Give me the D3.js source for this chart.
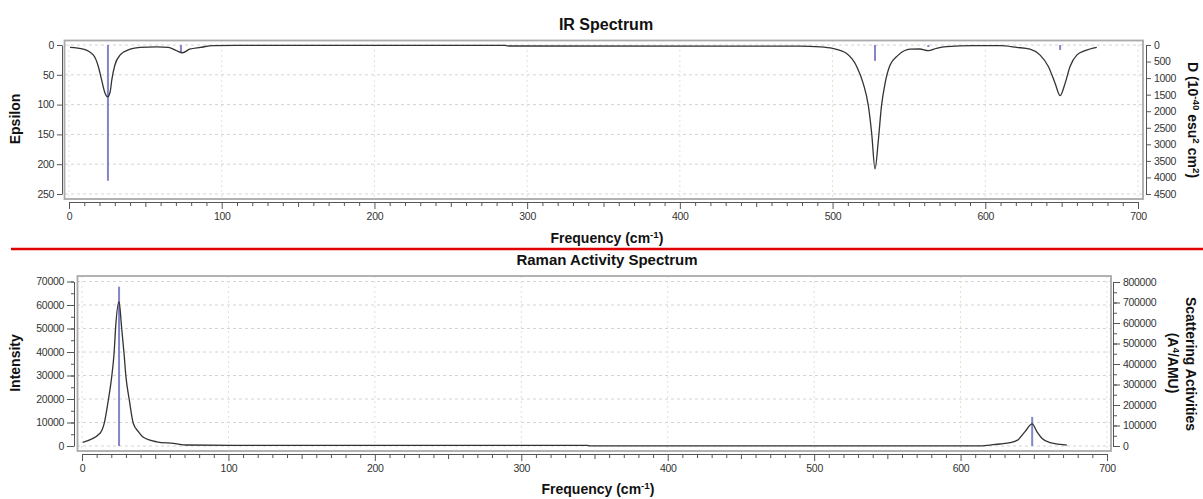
<!DOCTYPE html>
<html>
<head>
<meta charset="utf-8">
<script src="https://cdn.jsdelivr.net/npm/d3@7"></script>
<style>
  body { margin: 0; background: #fff; }
  svg { display: block; font-family: "Liberation Sans", Arial, sans-serif; }
  .tick text { font-size: 10.5px; fill: #333; letter-spacing: -0.3px; }
  .tick line, .domain { stroke: #555; }
</style>
</head>
<body>
<div id="chart"></div>
<script>
// IR spectrum curve (frequency cm-1, epsilon)
const irCurveFreq = [0.7, 9.4, 16, 19.2, 21.4, 23.5, 25.3, 27, 28, 30, 33.4, 40, 46.5, 57.4, 65, 70, 74.4, 79, 86, 94.5, 120, 285, 288, 478, 492, 500, 509, 515.8, 520, 523.5, 525.6, 527.8, 530, 532, 534.4, 537.6, 543, 550.7, 557, 562.7, 568, 574.8, 592, 609.7, 620.6, 629.3, 635.9, 641.3, 645.7, 649, 652.3, 655.5, 659.9, 665.4, 673];
const irCurveEps = [4, 7, 17, 36, 59, 80, 87, 78, 59, 34, 17, 7, 4, 3, 4, 9, 13, 7, 4, 1, 0.7, 0.7, 1.7, 1.8, 3, 5.6, 14, 36, 64, 103, 148, 208, 159, 103, 64, 34, 17, 7, 6.7, 9.5, 5.6, 2.8, 1.2, 1.2, 4, 7, 17, 36, 64, 85, 64, 36, 17, 9.5, 4];

// IR sticks (frequency, dipole strength D)
const irStickFreq = [25.5, 73.3, 527.8, 562.7, 649];
const irStickD = [4100, 210, 480, 60, 150];

// Raman curve (frequency, intensity)
const ramanCurveFreq = [0.5, 12.3, 15.2, 18, 20.3, 21.9, 23, 25.3, 27, 28.7, 30, 32.3, 35, 38.5, 41.9, 51, 62.4, 71.5, 103, 345, 347, 615, 620, 627, 633.9, 639.5, 644, 648.9, 652.1, 655.5, 661.2, 668, 672.6];
const ramanCurveInt = [1570, 5400, 9700, 19600, 29500, 39400, 50800, 61400, 50800, 39400, 29500, 19600, 9700, 6100, 3700, 1800, 1100, 430, 300, 300, 60, 80, 400, 850, 1400, 2800, 6100, 9400, 6100, 3300, 1400, 700, 400];

// Raman sticks (frequency, scattering activity)
const ramanStickFreq = [25.3, 648.9];
const ramanStickAct = [777000, 142000];

// tick values
const freqTicks = [0, 100, 200, 300, 400, 500, 600, 700];
const freqMinor = d3.range(0, 701, 10);
const epsTicks = [0, 50, 100, 150, 200, 250];
const dTicks = [0, 500, 1000, 1500, 2000, 2500, 3000, 3500, 4000, 4500];
const intTicks = [0, 10000, 20000, 30000, 40000, 50000, 60000, 70000];
const intMinor = d3.range(0, 70001, 5000);
const actTicks = [0, 100000, 200000, 300000, 400000, 500000, 600000, 700000, 800000];
const actMinor = d3.range(0, 800001, 50000);

const fmt = d3.format("d");

const svg = d3.select("#chart").append("svg")
  .attr("width", 1203)
  .attr("height", 499);

const line = (x, y) => d3.line().x(d => x(d[0])).y(d => y(d[1])).curve(d3.curveMonotoneX);

function frame(x0, y0, x1, y1) {
  svg.append("rect")
    .attr("x", x0).attr("y", y0)
    .attr("width", x1 - x0).attr("height", y1 - y0)
    .attr("fill", "none")
    .attr("stroke", "#aaa")
    .attr("stroke-width", 1.8);
}

function grid(x, y, yTicks, x0, x1, y0, y1) {
  const g = svg.append("g");
  g.selectAll("line.h").data(yTicks).enter().append("line")
    .attr("x1", x0).attr("x2", x1)
    .attr("y1", d => y(d)).attr("y2", d => y(d))
    .attr("stroke", "#d4d4d4").attr("stroke-dasharray", "3,3");
  g.selectAll("line.v").data(freqTicks).enter().append("line")
    .attr("x1", d => x(d)).attr("x2", d => x(d))
    .attr("y1", y0).attr("y2", y1)
    .attr("stroke", "#e2e2cc").attr("stroke-dasharray", "2,3");
}

function freqAxis(x, yPos) {
  svg.append("g").attr("transform", `translate(0,${yPos})`)
    .call(d3.axisBottom(x).tickValues(freqMinor.filter(d => d % 50 !== 0)).tickSize(4).tickFormat(""))
    .call(g => g.select(".domain").remove());
  svg.append("g").attr("transform", `translate(0,${yPos})`)
    .call(d3.axisBottom(x).tickValues([50, 150, 250, 350, 450, 550, 650]).tickSize(5).tickFormat(""))
    .call(g => g.select(".domain").remove());
  svg.append("g").attr("transform", `translate(0,${yPos})`)
    .call(d3.axisBottom(x).tickValues(freqTicks).tickSize(7).tickSizeOuter(0).tickPadding(4).tickFormat(fmt));
}

function sup(text, parts) {
  parts.forEach(p => {
    const t = text.append("tspan").text(p[0]);
    if (p[1]) t.attr("baseline-shift", "super").attr("font-size", "70%");
  });
}

function boldText(x, y, rot) {
  return svg.append("text")
    .attr("transform", `translate(${x},${y}) rotate(${rot || 0})`)
    .attr("text-anchor", "middle")
    .attr("font-weight", "bold")
    .attr("font-size", 14)
    .attr("fill", "#111");
}

// ---------- IR panel ----------
const xIR = d3.scaleLinear().domain([0, 700]).range([69, 1138]);
const yEps = d3.scaleLinear().domain([0, 250]).range([45, 194]);
const yD = d3.scaleLinear().domain([0, 4500]).range([45, 194]);

grid(xIR, yEps, epsTicks, 65, 1143, 40, 199);
frame(64.5, 40.5, 1143, 199);

svg.append("g").attr("transform", "translate(62,0)")
  .call(d3.axisLeft(yEps).tickValues(epsTicks).tickSize(5).tickSizeOuter(0).tickPadding(3).tickFormat(fmt));
svg.append("g").attr("transform", "translate(1146,0)")
  .call(d3.axisRight(yD).tickValues(dTicks).tickSize(5).tickSizeOuter(0).tickPadding(3).tickFormat(fmt));
freqAxis(xIR, 202);

svg.append("g").selectAll("line").data(irStickFreq).enter().append("line")
  .attr("x1", d => xIR(d)).attr("x2", d => xIR(d))
  .attr("y1", yD(0))
  .attr("y2", (d, i) => yD(irStickD[i]))
  .attr("stroke", "#7070c0").attr("stroke-opacity", 0.85).attr("stroke-width", 2);

svg.append("path")
  .datum(irCurveFreq.map((f, i) => [f, irCurveEps[i]]))
  .attr("d", line(xIR, yEps))
  .attr("fill", "none").attr("stroke", "#333").attr("stroke-width", 1.3);

boldText(606, 30).attr("font-size", 16).text("IR Spectrum");
sup(boldText(607, 243), [["Frequency (cm"], ["-1", true], [")"]]);
boldText(20, 119, -90).text("Epsilon");
sup(boldText(1188, 120, 90), [["D (10"], ["-40", true], [" esu"], ["2", true], [" cm"], ["2", true], [")"]]);

// separator
svg.append("line")
  .attr("x1", 11).attr("x2", 1203).attr("y1", 249).attr("y2", 249)
  .attr("stroke", "#e00000").attr("stroke-width", 2.5);

// ---------- Raman panel ----------
const xR = d3.scaleLinear().domain([0, 700]).range([82, 1107]);
const yInt = d3.scaleLinear().domain([0, 70000]).range([446, 281.5]);
const yAct = d3.scaleLinear().domain([0, 800000]).range([446, 282]);

grid(xR, yInt, intTicks, 77, 1111, 276, 451);
frame(77.5, 276, 1111, 451);

svg.append("g").attr("transform", "translate(74,0)")
  .call(d3.axisLeft(yInt).tickValues(intMinor).tickSize(3).tickFormat(""))
  .call(g => g.select(".domain").remove());
svg.append("g").attr("transform", "translate(74,0)")
  .call(d3.axisLeft(yInt).tickValues(intTicks).tickSize(7).tickSizeOuter(0).tickPadding(3).tickFormat(fmt));
svg.append("g").attr("transform", "translate(1113,0)")
  .call(d3.axisRight(yAct).tickValues(actMinor).tickSize(4).tickFormat(""))
  .call(g => g.select(".domain").remove());
svg.append("g").attr("transform", "translate(1113,0)")
  .call(d3.axisRight(yAct).tickValues(actTicks).tickSize(7).tickSizeOuter(0).tickPadding(3).tickFormat(fmt));
freqAxis(xR, 454);

svg.append("g").selectAll("line").data(ramanStickFreq).enter().append("line")
  .attr("x1", d => xR(d)).attr("x2", d => xR(d))
  .attr("y1", yAct(0))
  .attr("y2", (d, i) => yAct(ramanStickAct[i]))
  .attr("stroke", "#7070c0").attr("stroke-opacity", 0.85).attr("stroke-width", 2);

svg.append("path")
  .datum(ramanCurveFreq.map((f, i) => [f, ramanCurveInt[i]]))
  .attr("d", line(xR, yInt))
  .attr("fill", "none").attr("stroke", "#333").attr("stroke-width", 1.3);

boldText(607, 265).attr("font-size", 15).text("Raman Activity Spectrum");
sup(boldText(598, 494), [["Frequency (cm"], ["-1", true], [")"]]);
boldText(20, 363, -90).text("Intensity");
boldText(1186, 364, 90).text("Scattering Activities");
sup(boldText(1168, 363, 90), [["(A"], ["4", true], ["/AMU)"]]);
</script>
</body>
</html>
